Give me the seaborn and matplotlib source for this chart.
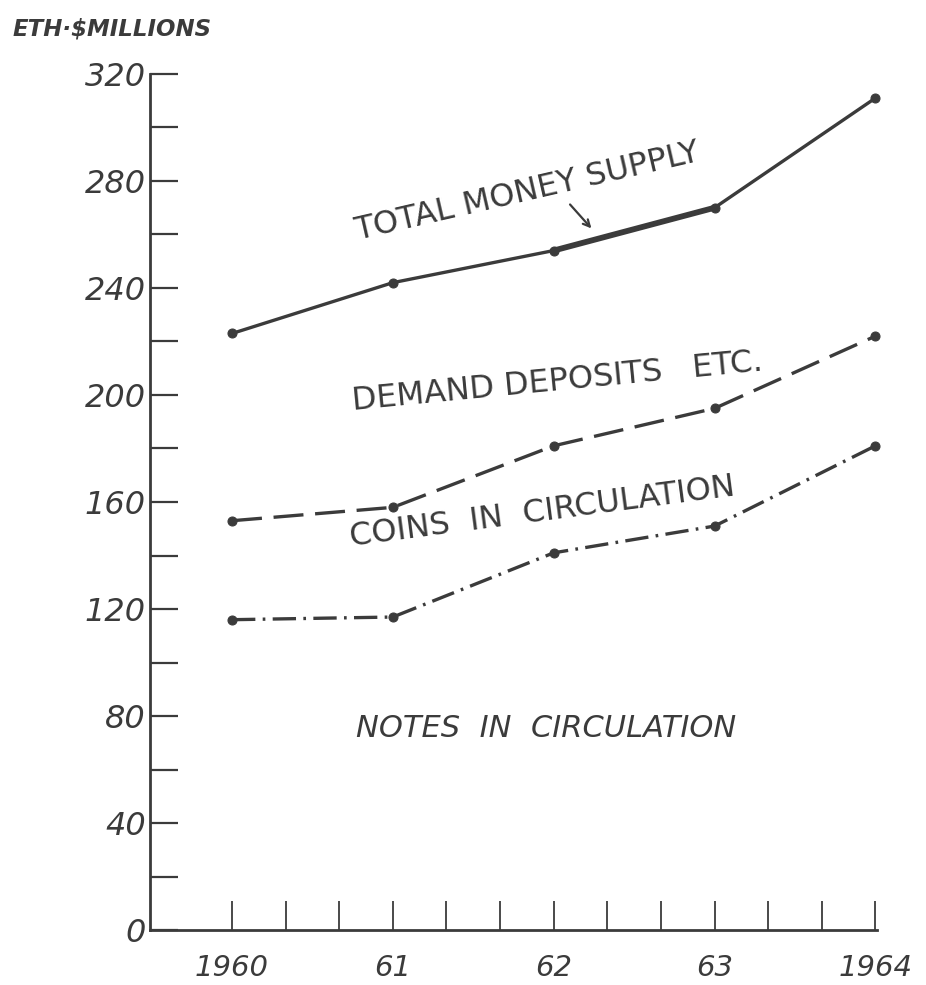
import matplotlib
matplotlib.use("Agg")
import matplotlib.pyplot as plt
from matplotlib.ticker import FixedLocator
import seaborn as sns
import pandas as pd

# values (ETH $ millions, end of year)
years = [1960, 1961, 1962, 1963, 1964]
total_supply = [223, 242, 254, 270, 311]
demand_line = [153, 158, 181, 195, 222]
coins_line = [116, 117, 141, 151, 181]

year_labels = ["1960", "61", "62", "63", "1964"]
y_major = [0, 40, 80, 120, 160, 200, 240, 280, 320]
y_minor = [20, 60, 100, 140, 180, 220, 260, 300]
x_minor = [1960 + k / 3 for k in range(13) if k % 3 != 0]

ink = "#3b3b3b"

sns.set_theme(style="white")
plt.rcParams["font.family"] = ["DejaVu Sans"]

fig = plt.figure(figsize=(9.26, 9.85), dpi=100)
ax = fig.add_axes([150 / 926, 55 / 985, 727 / 926, 856 / 985])

df = pd.DataFrame({"year": years, "total": total_supply,
                   "demand": demand_line, "coins": coins_line})

line_kw = dict(color=ink, lw=2.4, marker="o", markersize=6.5,
               markeredgecolor=ink, markerfacecolor=ink, clip_on=False)

sns.lineplot(data=df, x="year", y="total", ax=ax, **line_kw)
# the doubled stretch of the total line near the arrow
sns.lineplot(data=df.iloc[2:4], x="year", y="total", ax=ax,
             color=ink, lw=4.2, clip_on=False)
sns.lineplot(data=df, x="year", y="demand", ax=ax,
             linestyle=(0, (9, 3.5)), **line_kw)
sns.lineplot(data=df, x="year", y="coins", ax=ax,
             linestyle=(0, (7, 2.2, 0.8, 2.2)), **line_kw)

ax.set_xlim(1959.49, 1964.01)
ax.set_ylim(0, 320)

# axes frame: only left and bottom lines
for side in ["top", "right"]:
    ax.spines[side].set_visible(False)
for side in ["left", "bottom"]:
    ax.spines[side].set_color(ink)
    ax.spines[side].set_linewidth(2.0)

ax.set_xticks(years)
ax.set_xticklabels(year_labels)
ax.xaxis.set_minor_locator(FixedLocator(x_minor))
ax.set_yticks(y_major)
ax.set_yticklabels([str(v) for v in y_major])
ax.yaxis.set_minor_locator(FixedLocator(y_minor))

ax.tick_params(axis="x", which="both", direction="in", length=21,
               width=1.3, color=ink, bottom=True)
ax.tick_params(axis="x", which="major", pad=17, labelsize=21, labelcolor=ink)
ax.tick_params(axis="y", which="both", direction="in", length=20,
               width=1.6, color=ink, left=True)
ax.tick_params(axis="y", which="major", pad=3, labelsize=23, labelcolor=ink)
for lab in ax.get_xticklabels() + ax.get_yticklabels():
    lab.set_style("italic")

ax.set_xlabel("")
ax.set_ylabel("")
ax.grid(False)

# line labels
ax.text(1961.835, 276, "TOTAL MONEY SUPPLY", rotation=13,
        rotation_mode="anchor", ha="center", va="center",
        fontsize=23, color=ink)
ax.annotate("", xy=(1962.246, 261.5), xytext=(1962.09, 272),
            arrowprops=dict(arrowstyle="->", color=ink, lw=1.6))
ax.text(1962.02, 205, "DEMAND DEPOSITS   ETC.", rotation=5.5,
        rotation_mode="anchor", ha="center", va="center",
        fontsize=23, color=ink)
ax.text(1961.93, 156, "COINS  IN  CIRCULATION", rotation=7.5,
        rotation_mode="anchor", ha="center", va="center",
        fontsize=23, color=ink)
ax.text(1961.95, 75.5, "NOTES  IN  CIRCULATION", ha="center",
        va="center", fontsize=22, style="italic", color=ink)

fig.text(0.121, 0.9706, "ETH·$MILLIONS", ha="center", va="center",
         fontsize=16.5, fontweight="bold", style="italic", color=ink)

fig.savefig("out.png", dpi=100)
